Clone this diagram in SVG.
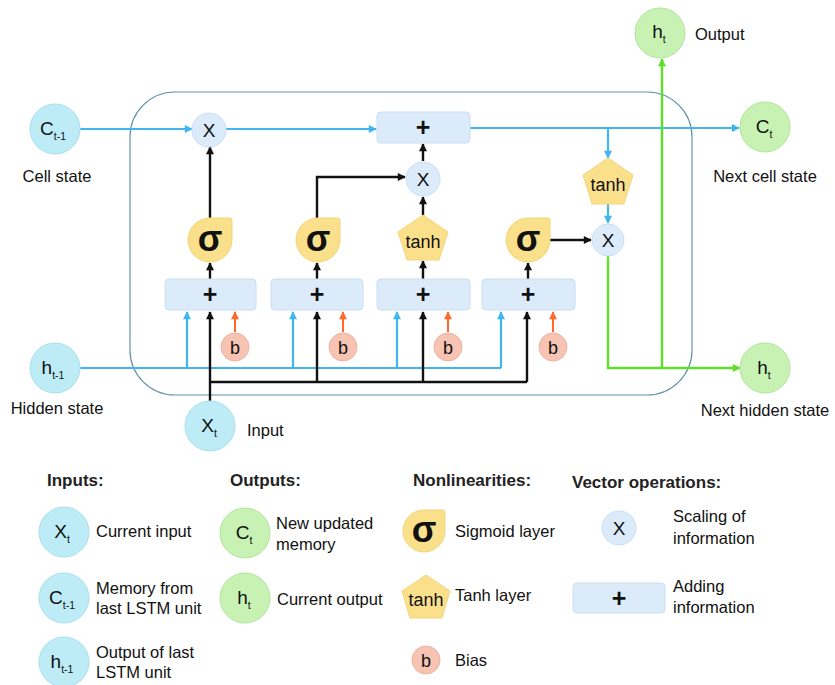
<svg xmlns="http://www.w3.org/2000/svg" width="835" height="685" viewBox="0 0 835 685">
<defs>
<style>
text{font-family:"Liberation Sans",Arial,sans-serif;fill:#111}
.lbl{font-size:16.5px}
.hdr{font-size:17px;font-weight:bold;fill:#222}
.in{fill:#bdecf6;stroke:#a8dfee;stroke-width:1}
.out{fill:#c8f2b4;stroke:#b0e59a;stroke-width:1}
.sig{fill:#fbe08c;stroke:#f3d57a;stroke-width:1}
.op{fill:#dcebfa;stroke:#c9def3;stroke-width:1}
.bias{fill:#f7c3b2;stroke:#f0b3a0;stroke-width:1}
.nt{font-size:19px;text-anchor:middle}
.sub{font-size:10.5px}
.sgt{font-size:36px;text-anchor:middle;font-weight:bold}
.tt{font-size:18px;text-anchor:middle}
.pt{font-size:25px;text-anchor:middle;font-weight:bold}
.bl{stroke:#3fb6ef;stroke-width:2.2;fill:none}
.bk{stroke:#111;stroke-width:2.4;fill:none}
.or{stroke:#ff6a2a;stroke-width:2;fill:none}
.gr{stroke:#5ee02a;stroke-width:2.4;fill:none}
</style>
<marker id="ab" viewBox="0 0 10 10" refX="9" refY="5" markerWidth="9" markerHeight="8" markerUnits="userSpaceOnUse" orient="auto"><path d="M0,0 L10,5 L0,10 z" fill="#3fb6ef"/></marker>
<marker id="ak" viewBox="0 0 10 10" refX="9" refY="5" markerWidth="9" markerHeight="8" markerUnits="userSpaceOnUse" orient="auto"><path d="M0,0 L10,5 L0,10 z" fill="#111"/></marker>
<marker id="ao" viewBox="0 0 10 10" refX="9" refY="5" markerWidth="9" markerHeight="8" markerUnits="userSpaceOnUse" orient="auto"><path d="M0,0 L10,5 L0,10 z" fill="#ff6a2a"/></marker>
<marker id="ag" viewBox="0 0 10 10" refX="9" refY="5" markerWidth="9" markerHeight="8" markerUnits="userSpaceOnUse" orient="auto"><path d="M0,0 L10,5 L0,10 z" fill="#5ee02a"/></marker>
</defs>

<rect id="cell" x="130" y="92" width="562" height="303" rx="45" fill="none" stroke="#5f93aa" stroke-width="1.2"/>

<g id="connectors">
<path class="bl" d="M80,129 H192" marker-end="url(#ab)"/>
<path class="bl" d="M226,129 H376" marker-end="url(#ab)"/>
<path class="bl" d="M470,128 H739" marker-end="url(#ab)"/>
<path class="bl" d="M608,128 V158" marker-end="url(#ab)"/>
<path class="bl" d="M608,204 V223" marker-end="url(#ab)"/>
<path class="bl" d="M80,368 H501"/>
<path class="bl" d="M187,368 V312" marker-end="url(#ab)"/>
<path class="bl" d="M293,368 V312" marker-end="url(#ab)"/>
<path class="bl" d="M397,368 V312" marker-end="url(#ab)"/>
<path class="bl" d="M501,368 V312" marker-end="url(#ab)"/>
<path class="bk" d="M210,401 V312" marker-end="url(#ak)"/>
<path class="bk" d="M210,382 H527"/>
<path class="bk" d="M317,382 V312" marker-end="url(#ak)"/>
<path class="bk" d="M423,382 V312" marker-end="url(#ak)"/>
<path class="bk" d="M527,382 V312" marker-end="url(#ak)"/>
<path class="bk" d="M210,279 V263" marker-end="url(#ak)"/>
<path class="bk" d="M317,279 V263" marker-end="url(#ak)"/>
<path class="bk" d="M423,279 V261" marker-end="url(#ak)"/>
<path class="bk" d="M528,279 V263" marker-end="url(#ak)"/>
<path class="bk" d="M210,218 V147" marker-end="url(#ak)"/>
<path class="bk" d="M317,218 V177 H405" marker-end="url(#ak)"/>
<path class="bk" d="M423,215 V197" marker-end="url(#ak)"/>
<path class="bk" d="M423,161 V144" marker-end="url(#ak)"/>
<path class="bk" d="M550,240 H591" marker-end="url(#ak)"/>
<path class="or" d="M235,332 V312" marker-end="url(#ao)"/>
<path class="or" d="M343,332 V312" marker-end="url(#ao)"/>
<path class="or" d="M448,332 V312" marker-end="url(#ao)"/>
<path class="or" d="M553,332 V312" marker-end="url(#ao)"/>
<path class="gr" d="M608,256 V368 H740" marker-end="url(#ag)"/>
<path class="gr" d="M662,368 V59" marker-end="url(#ag)"/>
</g>

<g id="c_prev"><circle class="in" cx="55" cy="129" r="25"/><text class="nt" x="53" y="135">C<tspan class="sub" dy="5">t-1</tspan></text><text class="lbl" x="57" y="182" text-anchor="middle">Cell state</text></g>
<g id="h_prev"><circle class="in" cx="55" cy="368" r="25"/><text class="nt" x="53" y="374">h<tspan class="sub" dy="5">t-1</tspan></text><text class="lbl" x="57" y="414" text-anchor="middle">Hidden state</text></g>
<g id="x_t"><circle class="in" cx="210" cy="426" r="25"/><text class="nt" x="209" y="432">X<tspan class="sub" dy="5">t</tspan></text><text class="lbl" x="247" y="436">Input</text></g>
<g id="h_out"><circle class="out" cx="660" cy="33" r="25"/><text class="nt" x="659" y="38">h<tspan class="sub" dy="5">t</tspan></text><text class="lbl" x="695" y="40">Output</text></g>
<g id="c_next"><circle class="out" cx="765" cy="127" r="25"/><text class="nt" x="764" y="133">C<tspan class="sub" dy="5">t</tspan></text><text class="lbl" x="765" y="182" text-anchor="middle">Next cell state</text></g>
<g id="h_next"><circle class="out" cx="765" cy="368" r="25"/><text class="nt" x="764" y="374">h<tspan class="sub" dy="5">t</tspan></text><text class="lbl" x="765" y="416" text-anchor="middle">Next hidden state</text></g>

<g id="mul1"><circle class="op" cx="209" cy="130" r="17"/><text class="nt" x="209" y="137">X</text></g>
<g id="add_c"><rect class="op" x="377" y="112" width="93" height="31" rx="4"/><text class="pt" x="423" y="136">+</text></g>
<g id="mul2"><circle class="op" cx="423" cy="179" r="17"/><text class="nt" x="423" y="186">X</text></g>
<g id="tanh_c"><path class="sig" d="M608,158 L633,175 L624,204 L592,204 L583,175 Z"/><text class="tt" x="608" y="191">tanh</text></g>
<g id="mul3"><circle class="op" cx="608" cy="240" r="16"/><text class="nt" x="608" y="247">X</text></g>

<g id="sig1"><path class="sig" d="M188,240 A22,22 0 0 1 210,218 H230 Q232,218 232,220 V240 A22,22 0 0 1 210,262 A22,22 0 0 1 188,240 Z"/><text class="sgt" x="210" y="251">σ</text></g>
<g id="sig2"><path class="sig" d="M296,240 A22,22 0 0 1 318,218 H338 Q340,218 340,220 V240 A22,22 0 0 1 318,262 A22,22 0 0 1 296,240 Z"/><text class="sgt" x="318" y="251">σ</text></g>
<g id="tanh_g"><path class="sig" d="M423,215 L448,232 L439,260 L407,260 L398,232 Z"/><text class="tt" x="423" y="248">tanh</text></g>
<g id="sig3"><path class="sig" d="M506,240 A22,22 0 0 1 528,218 H548 Q550,218 550,220 V240 A22,22 0 0 1 528,262 A22,22 0 0 1 506,240 Z"/><text class="sgt" x="528" y="251">σ</text></g>

<g id="add1"><rect class="op" x="165" y="279" width="91" height="31" rx="4"/><text class="pt" x="210" y="303">+</text></g>
<g id="add2"><rect class="op" x="271" y="279" width="92" height="31" rx="4"/><text class="pt" x="317" y="303">+</text></g>
<g id="add3"><rect class="op" x="377" y="279" width="93" height="31" rx="4"/><text class="pt" x="423" y="303">+</text></g>
<g id="add4"><rect class="op" x="482" y="279" width="93" height="31" rx="4"/><text class="pt" x="528" y="303">+</text></g>

<g id="b1"><circle class="bias" cx="235" cy="347" r="14"/><text class="tt" x="235" y="354">b</text></g>
<g id="b2"><circle class="bias" cx="343" cy="347" r="14"/><text class="tt" x="343" y="354">b</text></g>
<g id="b3"><circle class="bias" cx="448" cy="347" r="14"/><text class="tt" x="448" y="354">b</text></g>
<g id="b4"><circle class="bias" cx="553" cy="347" r="14"/><text class="tt" x="553" y="354">b</text></g>

<g id="legend">
<text class="hdr" x="47" y="486">Inputs:</text>
<text class="hdr" x="230" y="486">Outputs:</text>
<text class="hdr" x="413" y="486">Nonlinearities:</text>
<text class="hdr" x="572" y="488">Vector operations:</text>

<circle class="in" cx="64" cy="532" r="25"/><text class="nt" x="62" y="538">X<tspan class="sub" dy="5">t</tspan></text>
<text class="lbl" x="96" y="537">Current input</text>
<circle class="in" cx="64" cy="598" r="25"/><text class="nt" x="62" y="604">C<tspan class="sub" dy="5">t-1</tspan></text>
<text class="lbl" x="96" y="594">Memory from</text><text class="lbl" x="96" y="614">last LSTM unit</text>
<circle class="in" cx="64" cy="662" r="25"/><text class="nt" x="62" y="668">h<tspan class="sub" dy="5">t-1</tspan></text>
<text class="lbl" x="96" y="658">Output of last</text><text class="lbl" x="96" y="678">LSTM unit</text>

<circle class="out" cx="245" cy="533" r="25"/><text class="nt" x="244" y="539">C<tspan class="sub" dy="5">t</tspan></text>
<text class="lbl" x="276" y="529">New updated</text><text class="lbl" x="276" y="550">memory</text>
<circle class="out" cx="245" cy="598" r="25"/><text class="nt" x="244" y="604">h<tspan class="sub" dy="5">t</tspan></text>
<text class="lbl" x="277" y="605">Current output</text>

<path class="sig" d="M403,531 A21,21 0 0 1 424,510 H443 Q445,510 445,512 V531 A21,21 0 0 1 424,552 A21,21 0 0 1 403,531 Z"/><text class="sgt" x="424" y="542">σ</text>
<text class="lbl" x="455" y="537">Sigmoid layer</text>
<path class="sig" d="M426,575 L450,591 L442,618 L410,618 L402,591 Z"/><text class="tt" x="426" y="606">tanh</text>
<text class="lbl" x="455" y="601">Tanh layer</text>
<circle class="bias" cx="426" cy="660" r="14"/><text class="tt" x="426" y="667">b</text>
<text class="lbl" x="455" y="666">Bias</text>

<circle class="op" cx="619" cy="528" r="17"/><text class="nt" x="619" y="535">X</text>
<text class="lbl" x="673" y="522">Scaling of</text><text class="lbl" x="673" y="544">information</text>
<rect class="op" x="573" y="583" width="92" height="30" rx="4"/><text class="pt" x="619" y="607">+</text>
<text class="lbl" x="673" y="592">Adding</text><text class="lbl" x="673" y="613">information</text>
</g>
</svg>
